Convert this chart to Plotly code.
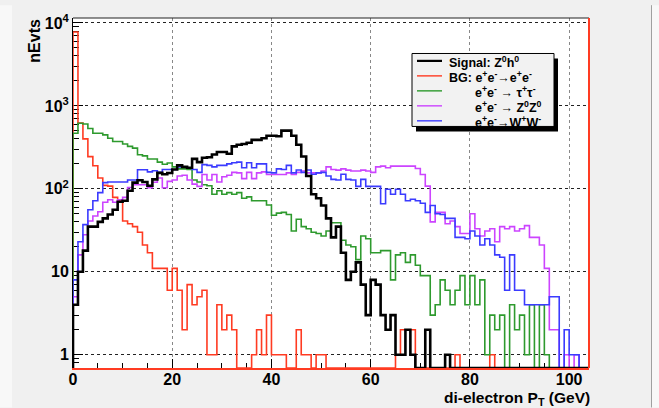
import plotly.graph_objects as go

# ---------------- data (1 GeV bins, 0 .. 104 GeV) ----------------
bin_start = 0.0
bin_width = 1.0

signal_zh = [4, 10, 18, 35, 35, 40, 44, 49, 56, 70, 72, 95, 119, 127, 121, 109, 130, 156, 150, 155,
             171, 192, 184, 180, 230, 210, 237, 240, 260, 278, 278, 265, 325, 340, 348, 360, 390, 390, 407, 436,
             436, 430, 503, 503, 436, 340, 246, 143, 86, 77, 63, 44, 26, 35, 17, 8, 10, 13, 7, 3,
             8, 7, 3, 2, 3, 1, 1, 2, 1, 0, 0, 2, 0, 0, 0, 1, 0, 0, 0, 0,
             0, 0, 0, 0, 0, 0, 0, 0, 0, 0, 0, 0, 0, 0, 0, 0, 0, 0, 0, 0,
             0, 0, 0, 0]

bg_ee = [7800, 620, 400, 245, 190, 135, 110, 108, 79, 72, 41, 38, 35, 30, 21, 17, 11, 11, 11, 6,
         11, 6, 2, 7, 4, 5, 6, 1, 1, 4, 2, 3, 2, 0, 0, 0, 1, 2, 1, 3,
         1, 1, 1, 0, 0, 2, 1, 1, 0, 1, 1, 0, 0, 0, 0, 0, 0, 0, 0, 0,
         0, 0, 0, 0, 0, 1, 2, 2, 2, 0, 0, 0, 0, 0, 0, 0, 0, 1, 0, 0,
         0, 0, 0, 0, 1, 0, 0, 0, 0, 0, 0, 0, 0, 0, 0, 0, 0, 0, 0, 0,
         0, 0, 0, 0]

bg_tautau = [468, 617, 605, 535, 468, 468, 447, 407, 372, 372, 348, 325, 310, 258, 250, 229, 229, 210, 198, 205,
             184, 174, 174, 171, 128, 121, 112, 109, 86, 95, 86, 90, 86, 90, 77, 80, 72, 72, 72, 64,
             48, 51, 52, 49, 31, 43, 35, 33, 30, 29, 27, 31, 39, 39, 24, 21, 20, 14, 27, 25,
             17, 17, 18, 18, 8, 16, 17, 13, 16, 12, 9, 9, 3, 4, 8, 6, 4, 6, 9, 4,
             9, 4, 8, 1, 3, 2, 3, 0, 4, 2, 3, 1, 4, 0, 4, 1, 0, 0, 0, 0,
             0, 0, 0, 0]

bg_zz = [5, 16, 28, 41, 47, 53, 69, 74, 69, 74, 79, 104, 112, 112, 112, 103, 120, 135, 103, 123,
         128, 143, 146, 128, 114, 107, 149, 128, 149, 121, 140, 146, 158, 156, 133, 158, 133, 156, 160, 149,
         149, 149, 149, 156, 149, 158, 164, 156, 156, 156, 164, 184, 171, 168, 174, 168, 164, 164, 168, 164,
         158, 184, 188, 180, 188, 188, 188, 188, 188, 176, 149, 108, 40, 52, 52, 38, 41, 35, 29, 29,
         50, 33, 27, 31, 33, 23, 35, 33, 35, 31, 33, 36, 26, 26, 21, 11, 2, 2, 0, 1,
         0, 1, 0, 0]

bg_ww = [8, 23, 37, 56, 72, 90, 119, 121, 121, 121, 121, 128, 128, 170, 170, 160, 165, 158, 171, 171,
         171, 184, 184, 180, 171, 158, 196, 192, 184, 192, 192, 200, 206, 210, 180, 206, 180, 200, 200, 158,
         156, 174, 171, 192, 156, 169, 158, 169, 150, 156, 158, 143, 130, 128, 150, 130, 128, 107, 130, 107,
         107, 107, 66, 99, 86, 99, 86, 72, 75, 72, 67, 52, 63, 50, 49, 44, 44, 26, 26, 25,
         31, 27, 21, 25, 21, 16, 15, 6, 16, 6, 6, 4, 4, 4, 4, 4, 5, 5, 0, 2,
         1, 1, 0, 0]

legend_labels = ["Signal: Z<sup>0</sup>h<sup>0</sup>",
                 "BG: e<sup>+</sup>e<sup>-</sup>\u2192e<sup>+</sup>e<sup>-</sup>",
                 "e<sup>+</sup>e<sup>-</sup> \u2192 \u03c4<sup>+</sup>\u03c4<sup>-</sup>",
                 "e<sup>+</sup>e<sup>-</sup> \u2192 Z<sup>0</sup>Z<sup>0</sup>",
                 "e<sup>+</sup>e<sup>-</sup>\u2192W<sup>+</sup>W<sup>-</sup>"]

x_tick_values = [0, 20, 40, 60, 80, 100]
y_tick_values = [1, 10, 100, 1000, 10000]
y_tick_labels = ["1", "10", "10<sup>2</sup>", "10<sup>3</sup>", "10<sup>4</sup>"]

# ---------------- styling / layout ----------------
W, H = 659, 408
ML, MR, MT, MB = 73, 70, 13, 40
X_MAX = 104.0
Y_LO, Y_HI = -0.16, 4.06
FLOOR = 10 ** Y_LO
FONT = "Liberation Sans, Arial, Helvetica, sans-serif"

C_BLACK = "#000000"
C_RED = "#ff3b22"
C_GREEN = "#2e9a2e"
C_PURPLE = "#cc44ff"
C_BLUE = "#3b3bff"

PW = W - ML - MR
PH = H - MT - MB


def px_x(p):
    return (p - ML) / PW


def px_y(p):
    return (H - MB - p) / PH


def steps(vals):
    n = len(vals)
    xs = [bin_start] + [bin_start + i * bin_width for i in range(n)] + [bin_start + n * bin_width]
    ys = [FLOOR] + [v if v > 0 else FLOOR for v in vals] + [vals[-1] if vals[-1] > 0 else FLOOR]
    return xs, ys


fig = go.Figure()
draw = [
    (bg_ee, C_RED, 1.6, legend_labels[1]),
    (bg_tautau, C_GREEN, 1.6, legend_labels[2]),
    (bg_zz, C_PURPLE, 1.6, legend_labels[3]),
    (bg_ww, C_BLUE, 1.6, legend_labels[4]),
    (signal_zh, C_BLACK, 2.6, legend_labels[0]),
]
for vals, col, lw, name in draw:
    xs, ys = steps(vals)
    fig.add_trace(go.Scatter(x=xs, y=ys, mode="lines", name=name,
                             line=dict(shape="hv", color=col, width=lw),
                             showlegend=False, hoverinfo="skip"))

minor_y = [m * 10 ** d for d in range(-1, 5) for m in range(2, 10)
           if Y_LO <= __import__("math").log10(m * 10 ** d) <= Y_HI]

fig.update_layout(
    width=W, height=H,
    margin=dict(l=ML, r=MR, t=MT, b=MB, pad=0),
    paper_bgcolor="#f0f0f0",
    plot_bgcolor="#ffffff",
    font=dict(family=FONT, size=16, color="#000000", weight="bold"),
    xaxis=dict(range=[0, X_MAX], tickmode="array", tickvals=x_tick_values,
               ticks="inside", ticklen=9, tickcolor="#000", tickwidth=1,
               ticklabelstandoff=-4,
               minor=dict(dtick=5, tick0=0, ticks="inside", ticklen=5, tickcolor="#000"),
               showgrid=True, gridcolor="#888888", griddash="dot", gridwidth=1,
               showline=True, linecolor=C_RED, linewidth=2, zeroline=False,
               layer="below traces",
               tickfont=dict(family=FONT, size=16, weight="bold")),
    yaxis=dict(type="log", range=[Y_LO, Y_HI], tickmode="array",
               tickvals=y_tick_values, ticktext=y_tick_labels,
               ticks="inside", ticklen=10, tickcolor="#000", tickwidth=1,
               minor=dict(tickvals=minor_y, ticks="inside", ticklen=6, tickcolor="#000"),
               showgrid=True, gridcolor="#222222", griddash="dot", gridwidth=1,
               showline=True, linecolor="#000000", linewidth=1, zeroline=False,
               layer="below traces",
               tickfont=dict(family=FONT, size=16, weight="bold")),
)

shapes = []
# canvas border details
shapes.append(dict(type="rect", xref="paper", yref="paper", x0=px_x(0), x1=px_x(12),
                   y0=px_y(H), y1=px_y(0), fillcolor="#f8f8f8", line=dict(width=0), layer="below"))
shapes.append(dict(type="rect", xref="paper", yref="paper", x0=px_x(652), x1=px_x(W),
                   y0=px_y(H), y1=px_y(0), fillcolor="#f8f8f8", line=dict(width=0), layer="below"))
shapes.append(dict(type="line", xref="paper", yref="paper", x0=px_x(651.5), x1=px_x(651.5),
                   y0=px_y(H), y1=px_y(0), line=dict(color="#a0a0a0", width=1)))
# frame top (dark) and right edge (red)
shapes.append(dict(type="line", xref="paper", yref="paper", x0=0, x1=1, y0=1, y1=1,
                   line=dict(color="#222222", width=1)))
shapes.append(dict(type="line", xref="paper", yref="paper", x0=1, x1=1, y0=0, y1=1,
                   line=dict(color=C_RED, width=2)))

# legend box with shadow
bx0, bx1, by0, by1 = 412, 554, 49, 123
shapes.append(dict(type="rect", xref="paper", yref="paper",
                   x0=px_x(bx0 + 4), x1=px_x(bx1 + 4), y0=px_y(by1 + 5), y1=px_y(by0 + 5),
                   fillcolor="#000000", line=dict(width=0)))
shapes.append(dict(type="rect", xref="paper", yref="paper",
                   x0=px_x(bx0), x1=px_x(bx1), y0=px_y(by1), y1=px_y(by0),
                   fillcolor="#f2f2f2", line=dict(color="#000000", width=1)))

legend_cols = [C_BLACK, C_RED, C_GREEN, C_PURPLE, C_BLUE]
legend_widths = [2.2, 1.4, 1.4, 1.4, 1.4]
legend_text_x = [447, 447, 473, 473, 473]
annotations = []
for i, (lab, col, lw, tx) in enumerate(zip(legend_labels, legend_cols, legend_widths, legend_text_x)):
    ly = 56.5 + i * 15.2
    shapes.append(dict(type="line", xref="paper", yref="paper",
                       x0=px_x(417), x1=px_x(442), y0=px_y(ly), y1=px_y(ly),
                       line=dict(color=col, width=lw)))
    annotations.append(dict(text=lab, xref="paper", yref="paper", x=px_x(tx), y=px_y(ly + 1.5),
                            xanchor="left", yanchor="middle", showarrow=False,
                            font=dict(family=FONT, size=12.5, weight="bold", color="#000")))

# axis titles
annotations.append(dict(text="nEvts", xref="paper", yref="paper", x=px_x(35), y=px_y(36),
                        xanchor="center", yanchor="middle", textangle=-90, showarrow=False,
                        font=dict(family=FONT, size=16, weight="bold")))
annotations.append(dict(text="di-electron P<sub>T</sub> (GeV)", xref="paper", yref="paper",
                        x=px_x(592), y=px_y(399), xanchor="right", yanchor="middle",
                        showarrow=False, font=dict(family=FONT, size=15.5, weight="bold")))

fig.update_layout(shapes=shapes, annotations=annotations)
fig.write_html("out.html")
